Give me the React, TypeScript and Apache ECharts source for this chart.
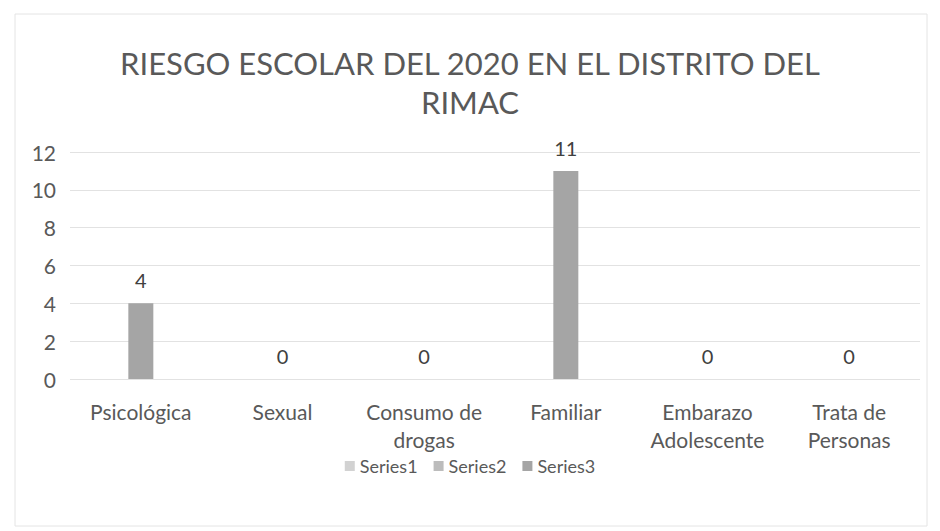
import React, { useEffect, useRef } from "react";
import * as echarts from "echarts";

const titleText = "RIESGO ESCOLAR DEL 2020 EN EL DISTRITO DEL\nRIMAC";
const categories = [
  "Psicológica",
  "Sexual",
  "Consumo de\ndrogas",
  "Familiar",
  "Embarazo\nAdolescente",
  "Trata de\nPersonas",
];
const series1: (number | null)[] = [null, null, null, null, null, null];
const series2: (number | null)[] = [null, null, null, null, null, null];
const series3 = [4, 0, 0, 11, 0, 0];
const seriesNames = ["Series1", "Series2", "Series3"];
const seriesColors = ["#d2d2d2", "#bcbcbc", "#a5a5a5"];

const FONT = "Lato";

export default function App() {
  const ref = useRef<HTMLDivElement>(null);
  useEffect(() => {
    if (!ref.current) return;
    const chart = echarts.init(ref.current, undefined, { renderer: "svg" });
    const data = [series1, series2, series3];
    chart.setOption({
      animation: false,
      backgroundColor: "#ffffff",
      textStyle: { fontFamily: FONT },
      title: {
        text: titleText,
        left: "center",
        top: 38,
        textStyle: {
          fontFamily: FONT,
          fontSize: 31,
          fontWeight: "normal",
          color: "#595959",
          lineHeight: 39,
          align: "center",
        },
      },
      graphic: [
        {
          type: "rect",
          shape: { x: 15, y: 14, width: 912, height: 512 },
          style: { fill: "none", stroke: "#e4e4e4", lineWidth: 1 },
          silent: true,
          z: -1,
        },
      ],
      legend: {
        bottom: 51,
        left: "center",
        itemWidth: 10,
        itemHeight: 10,
        itemGap: 16,
        icon: "rect",
        textStyle: { fontFamily: FONT, fontSize: 18, color: "#595959" },
        data: seriesNames,
      },
      grid: { left: 70, right: 20, top: 152, bottom: 152, containLabel: false },
      xAxis: {
        type: "category",
        data: categories,
        axisLine: { show: false },
        axisTick: { show: false },
        axisLabel: {
          fontFamily: FONT,
          fontSize: 21,
          color: "#595959",
          margin: 18,
          lineHeight: 28,
          interval: 0,
        },
      },
      yAxis: {
        type: "value",
        min: 0,
        max: 12,
        interval: 2,
        axisLine: { show: false },
        axisTick: { show: false },
        axisLabel: { fontFamily: FONT, fontSize: 21, color: "#595959", margin: 14 },
        splitLine: { lineStyle: { color: "#e2e2e2", width: 1 } },
      },
      series: seriesNames.map((name, i) => ({
        name,
        type: "bar",
        data: data[i],
        barWidth: 25,
        barGap: "-100%",
        itemStyle: { color: seriesColors[i] },
        label:
          i === 2
            ? {
                show: true,
                position: "top",
                distance: 13,
                fontFamily: FONT,
                fontSize: 20,
                color: "#404040",
              }
            : { show: false },
      })),
    });
    return () => chart.dispose();
  }, []);
  return (
    <div
      ref={ref}
      style={{ position: "absolute", left: 0, top: 0, width: 940, height: 531 }}
    />
  );
}
